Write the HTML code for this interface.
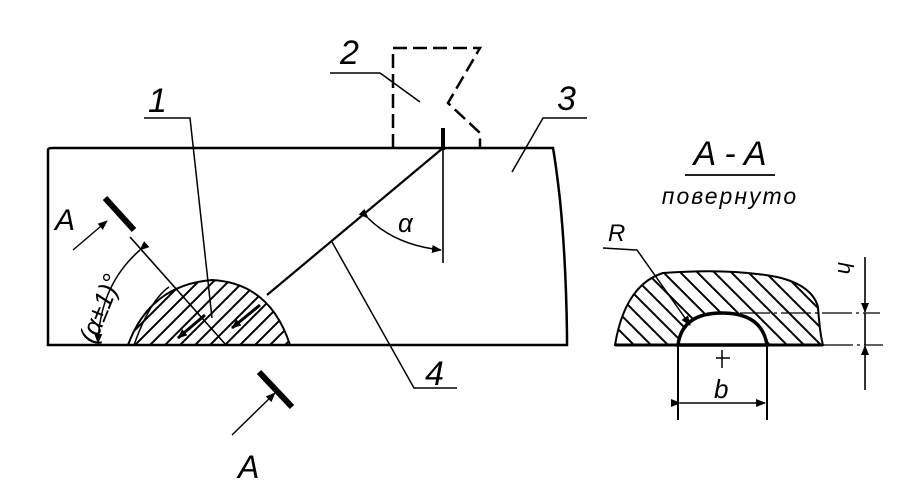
<!DOCTYPE html>
<html><head><meta charset="utf-8"><style>
html,body{margin:0;padding:0;background:#fff}
svg{display:block}
text{font-family:"Liberation Sans",sans-serif;font-style:italic;fill:#000}
</style></head><body>
<svg width="916" height="501" viewBox="0 0 916 501" xmlns="http://www.w3.org/2000/svg">
<defs>
<pattern id="h" patternUnits="userSpaceOnUse" width="15" height="15">
<path d="M0,15 L15,0 M-2,2 L2,-2 M13,17 L17,13" stroke="#000" stroke-width="2"/>
</pattern>
<pattern id="h2" patternUnits="userSpaceOnUse" width="17" height="17">
<path d="M0,0 L17,17 M-2,15 L2,19 M15,-2 L19,2" stroke="#000" stroke-width="2"/>
</pattern>
<marker id="a" markerWidth="10" markerHeight="8" refX="9" refY="4" orient="auto" markerUnits="userSpaceOnUse">
<path d="M0,0 L10,4 L0,8 Z" fill="#000"/></marker>
</defs>
<g fill="none" stroke="#000" stroke-width="2.2">
<path d="M48,345 L48,150 Q48,148 52,148 L553,148 Q556,165 560,200 Q566,260 567,335 L567,345 Z" stroke-width="2.5"/>
<path d="M128,345 Q150,285 212,280 Q270,283 290,345 Z" fill="url(#h)" stroke-width="2"/>
<path d="M134,345 Q150,300 169,287" stroke-width="1.5"/>
<path d="M393,148 L393,48 L480,48 L448,103 L480,133 L480,148" stroke-dasharray="14,6" stroke-width="2.5"/>
<line x1="443" y1="148" x2="267" y2="295" stroke-width="2.2"/>
<line x1="443" y1="128" x2="443" y2="150" stroke-width="4"/>
<line x1="443" y1="148" x2="443" y2="263" stroke-width="1.6"/>
<path d="M368,218 Q395,245 441,250" stroke-width="1.5" marker-end="url(#a)" marker-start="url(#a)"/>
<polyline points="330,73 380,73 420,102" stroke-width="1.5"/>
<polyline points="144,118 190,118 212,318" stroke-width="1.5"/>
<polyline points="332,242 414,388 457,388" stroke-width="1.5"/>
<polyline points="587,118 543,118 512,172" stroke-width="1.5"/>
<line x1="105" y1="198" x2="134" y2="230" stroke-width="6"/>
<line x1="130" y1="237" x2="226" y2="345" stroke-width="1.6"/>
<line x1="73" y1="250" x2="107" y2="221" stroke-width="1.4" marker-end="url(#a)"/>
<path d="M140,250 Q100,285 98,343" stroke-width="1.5" marker-start="url(#a)" marker-end="url(#a)"/>
<line x1="205" y1="315" x2="178" y2="338" stroke-width="3" marker-end="url(#a)"/>
<line x1="260" y1="305" x2="232" y2="328" stroke-width="3" marker-end="url(#a)"/>
<line x1="259" y1="372" x2="292" y2="407" stroke-width="6"/>
<line x1="232" y1="435" x2="275" y2="393" stroke-width="1.4" marker-end="url(#a)"/>
<path d="M615,345 Q625,285 663,273 Q730,268 777,277 Q812,285 818,307 Q820,335 823,345 Z" fill="url(#h2)" stroke-width="2"/>
<path d="M678,345 Q682,313 722,313 Q762,313 767,345 Z" fill="#fff" stroke-width="3.5"/>
<line x1="615" y1="345" x2="823" y2="345" stroke-width="3"/>
<line x1="685" y1="175" x2="775" y2="175" stroke-width="1.8"/>
<polyline points="603,248 637,250 690,325" stroke-width="1.5" marker-end="url(#a)"/>
<line x1="678" y1="345" x2="678" y2="420" stroke-width="2"/>
<line x1="767" y1="345" x2="767" y2="420" stroke-width="2"/>
<line x1="680" y1="403" x2="765" y2="403" stroke-width="1.4" marker-start="url(#a)" marker-end="url(#a)"/>
<line x1="740" y1="313" x2="880" y2="313" stroke-width="1.3" stroke-dasharray="30,4,3,4"/>
<line x1="823" y1="345" x2="883" y2="345" stroke-width="1.3" stroke-dasharray="30,4,3,4"/>
<line x1="865" y1="257" x2="865" y2="312" stroke-width="1.6" marker-end="url(#a)"/>
<line x1="865" y1="390" x2="865" y2="346" stroke-width="1.6" marker-end="url(#a)"/>
<line x1="865" y1="313" x2="865" y2="345" stroke-width="1.6"/>
<line x1="716" y1="358" x2="730" y2="358" stroke-width="1.5"/>
<line x1="722" y1="350" x2="722" y2="368" stroke-width="1.5"/>
</g>
<text x="148" y="112" font-size="34">1</text>
<text x="340" y="64" font-size="34">2</text>
<text x="557" y="110" font-size="34">3</text>
<text x="425" y="385" font-size="34">4</text>
<text x="398" y="232" font-size="26">α</text>
<text x="55" y="230" font-size="30">A</text>
<text x="238" y="478" font-size="32">A</text>
<text transform="translate(95,345) rotate(-68)" font-size="26">(α±1)°</text>
<text x="730" y="165" font-size="34" text-anchor="middle">A - A</text>
<text x="730" y="204" font-size="23" letter-spacing="2" text-anchor="middle">повернуто</text>
<text x="608" y="241" font-size="24">R</text>
<text x="714" y="398" font-size="26">b</text>
<text transform="translate(838,262) rotate(90)" font-size="22">h</text>
</svg>
</body></html>
